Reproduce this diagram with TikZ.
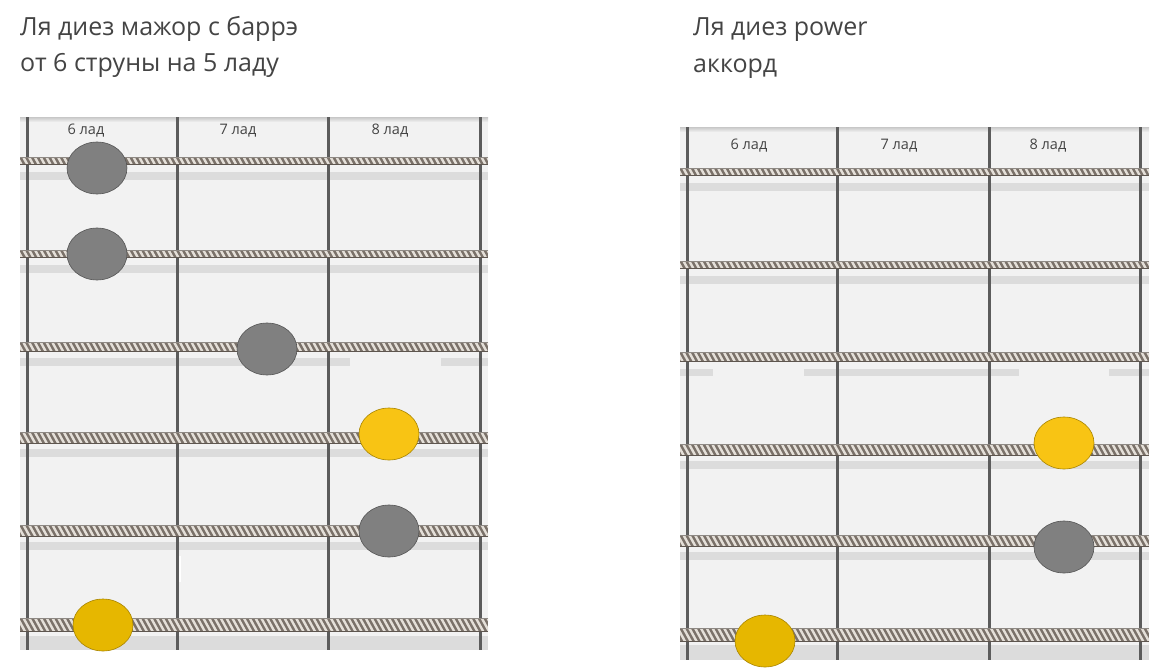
\documentclass[tikz,border=0pt]{standalone}
\usepackage{fontspec}
\setmainfont{Open Sans}
\usetikzlibrary{shapes.geometric}
\definecolor{boardbg}{HTML}{F2F2F2}
\definecolor{bandc}{HTML}{DCDCDC}
\definecolor{fretc}{HTML}{5C5C5C}
\definecolor{ropedark}{HTML}{7A7169}
\definecolor{ropeedge}{HTML}{5E564F}
\definecolor{ropelight}{HTML}{E4DFD8}
\definecolor{dotgray}{HTML}{808080}
\definecolor{dotgrayb}{HTML}{555555}
\definecolor{dotyel}{HTML}{F8C414}
\definecolor{dotyeldk}{HTML}{E6B700}
\definecolor{dotyelb}{HTML}{A88400}
\definecolor{txt}{HTML}{444444}
\tikzset{
  titletext/.style={anchor=base west, inner sep=0pt, text=txt, font=\fontsize{25}{29}\selectfont},
  fretlabel/.style={inner sep=0pt, text=txt, font=\fontsize{14.5}{16}\selectfont},
  fretline/.style={draw=fretc, line width=3pt},
  dotbase/.style={ellipse, minimum width=60pt, minimum height=52pt, inner sep=0pt, line width=0.6pt},
  graydot/.style={dotbase, fill=dotgray, draw=dotgrayb},
  yeldot/.style={dotbase, fill=dotyel, draw=dotyelb},
  yeldotdk/.style={dotbase, fill=dotyeldk, draw=dotyelb},
}
% rope string: x1, x2, y, width
\newcommand\ropestr[4]{%
  \begin{scope}
    \clip (#1,#3-#4/2) rectangle (#2,#3+#4/2);
    \fill[ropedark] (#1,#3-#4/2) rectangle (#2,#3+#4/2);
    \foreach \k in {0,...,82}{%
      \pgfmathsetmacro\xx{#1-8+5.8*\k}%
      \draw[ropelight, line width=2.4pt] (\xx,#3-#4/2) -- (\xx+#4*0.55,#3+#4/2);
    }
    \draw[ropeedge, line width=1.4pt] (#1,#3+#4/2) -- (#2,#3+#4/2);
    \draw[ropeedge!70, line width=0.8pt] (#1,#3-#4/2) -- (#2,#3-#4/2);
  \end{scope}}
\begin{document}
\begin{tikzpicture}[x=1pt,y=-1pt]
\useasboundingbox (0,0) rectangle (1175,669);
\fill[white] (0,0) rectangle (1175,669);

% titles
\node[titletext] (t1a) at (20,36) {Ля диез мажор с баррэ};
\node[titletext] (t1b) at (20,71) {от 6 струны на 5 ладу};
\node[titletext] (t2a) at (693,36) {Ля диез power};
\node[titletext] (t2b) at (693,72) {аккорд};

% ---------------- left board ----------------
\fill[boardbg] (20,117) rectangle (488,650);
\shade[top color=black!22, bottom color=boardbg] (20,117) rectangle (488,122);
% bands
\foreach \y in {161,254,438,531}{\fill[bandc] (20,\y+11) rectangle (488,\y+19);}
\fill[bandc] (20,358) rectangle (350,366);
\fill[bandc] (441,358) rectangle (488,366);
\fill[bandc] (20,636) rectangle (488,650);
% frets
\foreach \x in {27,177,328,480}{\draw[fretline] (\x,117) -- (\x,650);}
\fill[white] (179,556) rectangle (181,582);
% strings
\ropestr{20}{488}{161}{6.5}
\ropestr{20}{488}{254}{7.5}
\ropestr{20}{488}{347}{8.5}
\ropestr{20}{488}{438}{10.5}
\ropestr{20}{488}{531}{11.5}
\ropestr{20}{488}{625}{13.5}
% labels
\node[fretlabel] (l6) at (86,131) {6 лад};
\node[fretlabel] (l7) at (238,131) {7 лад};
\node[fretlabel] (l8) at (390,131) {8 лад};
% dots
\node[graydot] (a1) at (97,168) {};
\node[graydot] (a2) at (97,254) {};
\node[graydot] (a3) at (267,349) {};
\node[yeldot] (a4) at (389,434) {};
\node[graydot] (a5) at (389,531) {};
\node[yeldotdk] (a6) at (103,625) {};

% ---------------- right board ----------------
\fill[boardbg] (680,127) rectangle (1149,660);
\shade[top color=black!22, bottom color=boardbg] (680,127) rectangle (1149,132);
\foreach \y in {172,265,450,541}{\fill[bandc] (680,\y+11) rectangle (1149,\y+19);}
\fill[bandc] (680,369) rectangle (713,376);
\fill[bandc] (804,369) rectangle (1019,376);
\fill[bandc] (1109,369) rectangle (1149,376);
\fill[bandc] (680,645) rectangle (1149,660);
\foreach \x in {687,837,989,1140}{\draw[fretline] (\x,127) -- (\x,660);}
\ropestr{680}{1149}{172}{6.5}
\ropestr{680}{1149}{265}{7.5}
\ropestr{680}{1149}{357}{8.5}
\ropestr{680}{1149}{450}{10.5}
\ropestr{680}{1149}{541}{11.5}
\ropestr{680}{1149}{635}{13.5}
\node[fretlabel] (r6) at (749,146) {6 лад};
\node[fretlabel] (r7) at (899,146) {7 лад};
\node[fretlabel] (r8) at (1048,146) {8 лад};
\node[yeldot] (b1) at (1064,443) {};
\node[graydot] (b2) at (1064,547) {};
\node[yeldotdk] (b3) at (765,641) {};
\end{tikzpicture}
\end{document}
